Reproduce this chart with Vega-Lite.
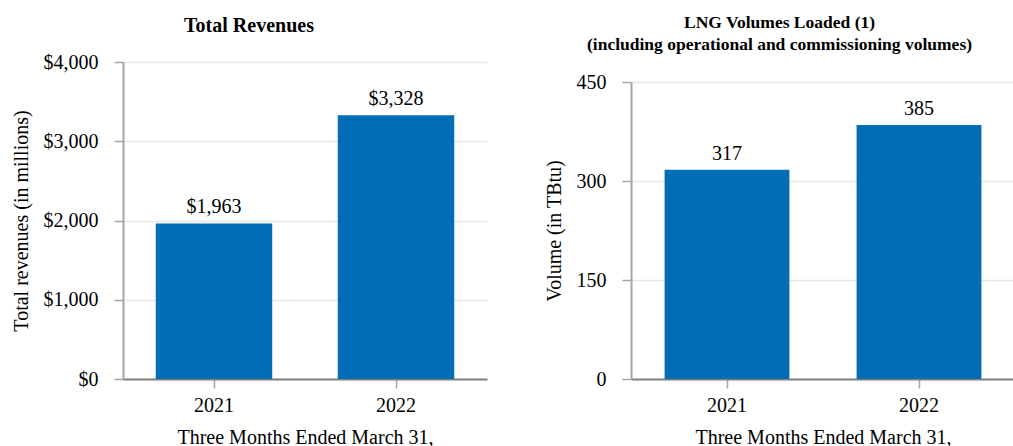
{
  "$schema": "https://vega.github.io/schema/vega-lite/v6.json",
  "padding": {"left": 11, "top": 13, "right": 0, "bottom": 0},
  "background": "white",
  "center": true,
  "config": {
    "font": "Liberation Serif",
    "view": {"stroke": null},
    "axis": {
      "labelFont": "Liberation Serif",
      "labelFontSize": 20,
      "labelColor": "#000000",
      "titleFont": "Liberation Serif",
      "titleFontSize": 20,
      "titleFontWeight": "normal",
      "titleColor": "#000000",
      "gridColor": "#e6e6e6",
      "gridWidth": 1.5,
      "tickColor": "#a6a6a6",
      "tickWidth": 1.5,
      "tickSize": 9,
      "domainColor": "#a6a6a6",
      "domainWidth": 2
    },
    "axisX": {"domainColor": "#808080", "grid": false, "labelAngle": 0, "labelPadding": 7, "titlePadding": 12, "titleLineHeight": 20},
    "axisY": {"labelPadding": 16, "titlePadding": 12},
    "title": {"font": "Liberation Serif", "fontWeight": "bold", "color": "#000000", "frame": "bounds", "anchor": "middle"},
    "concat": {"spacing": 57}
  },
  "hconcat": [
    {
      "title": {"text": "Total Revenues", "fontSize": 20, "offset": 16},
      "width": 364,
      "height": 317,
      "data": {"values": [{"year": "2021", "revenue": 1963}, {"year": "2022", "revenue": 3328}]},
      "encoding": {
        "x": {"field": "year", "type": "nominal", "scale": {"paddingInner": 0.36, "paddingOuter": 0.18}, "axis": {"title": ["Three Months Ended March 31,", " "]}},
        "y": {"field": "revenue", "type": "quantitative", "scale": {"domain": [0, 4000]}, "axis": {"values": [0, 1000, 2000, 3000, 4000], "format": "$,.0f", "title": "Total revenues (in millions)"}}
      },
      "layer": [
        {"mark": {"type": "bar", "color": "#006db6"}},
        {"mark": {"type": "text", "baseline": "alphabetic", "dy": -10, "fontSize": 20, "font": "Liberation Serif", "color": "#000000"}, "encoding": {"text": {"field": "revenue", "format": "$,.0f"}}}
      ]
    },
    {
      "title": {"text": ["LNG Volumes Loaded (1)", "(including operational and commissioning volumes)"], "fontSize": 17.5, "lineHeight": 22, "offset": 19},
      "width": 384,
      "height": 297,
      "data": {"values": [{"year": "2021", "volume": 317}, {"year": "2022", "volume": 385}]},
      "encoding": {
        "x": {"field": "year", "type": "nominal", "scale": {"paddingInner": 0.35, "paddingOuter": 0.175}, "axis": {"title": "Three Months Ended March 31,"}},
        "y": {"field": "volume", "type": "quantitative", "scale": {"domain": [0, 450]}, "axis": {"values": [0, 150, 300, 450], "format": "d", "title": "Volume (in TBtu)"}}
      },
      "layer": [
        {"mark": {"type": "bar", "color": "#006db6"}},
        {"mark": {"type": "text", "baseline": "alphabetic", "dy": -10, "fontSize": 20, "font": "Liberation Serif", "color": "#000000"}, "encoding": {"text": {"field": "volume", "format": "d"}}}
      ]
    }
  ]
}
